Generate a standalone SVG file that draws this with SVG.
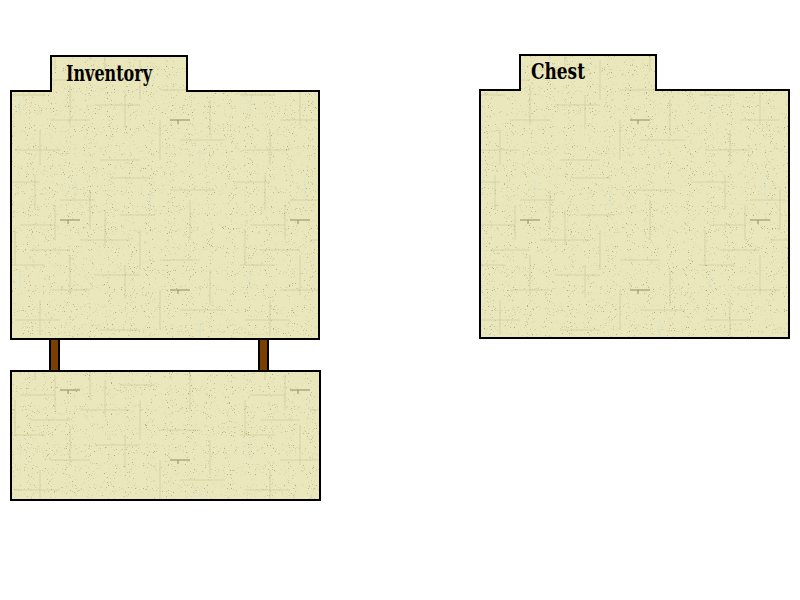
<svg xmlns="http://www.w3.org/2000/svg" width="800" height="600" viewBox="0 0 800 600">
  <style>
    .border { fill: none; stroke: #000; stroke-width: 2; stroke-linejoin: miter; }
    .paper { fill: url(#paperPat); }
    .title { font-family: "DejaVu Serif", "Liberation Serif", serif; font-weight: bold; font-size: 22px; fill: #000; }
    .post { fill: #7b3f00; stroke: #000; stroke-width: 2; }
  </style>
  <defs>
    <pattern id="paperPat" patternUnits="userSpaceOnUse" width="230" height="170">
      <rect width="230" height="170" fill="#ebe7bc"/>
      <g stroke="#c4bf95" stroke-width="1" stroke-opacity="0.55">
        <path d="M5 12 H40 M60 30 H95 M110 8 H150 M20 55 H55 M80 70 H130 M10 95 H45 M95 105 H140 M50 120 H90 M120 45 H155 M30 80 H70 M170 20 H215 M160 90 H200 M180 140 H225 M15 150 H60 M100 160 H140"/>
        <path d="M35 5 V40 M90 20 V60 M140 60 V100 M15 60 V95 M70 85 V125 M125 95 V128 M55 35 V70 M105 40 V75 M190 30 V70 M210 100 V135 M160 120 V160 M40 130 V165"/>
      </g>
      <g stroke="#8f8a60" stroke-width="1">
        <path d="M60 50 H80 M68 50 V54 M170 120 H190 M178 120 V124"/>
      </g>
      <g stroke="#c6e0d0" stroke-width="1" stroke-opacity="0.5">
        <path d="M75 10 V30 M20 100 V118 M150 20 V40 M200 150 V168"/>
      </g>
    </pattern>
    <filter id="speckle" x="0" y="0" width="100%" height="100%">
      <feTurbulence type="fractalNoise" baseFrequency="0.95" numOctaves="2" seed="7" result="n"/>
      <feColorMatrix in="n" type="matrix" values="0 0 0 0 0.42  0 0 0 0 0.40  0 0 0 0 0.25  6 0 0 0 -3.9" result="dots"/>
      <feComposite in="dots" in2="SourceGraphic" operator="in" result="d2"/>
      <feMerge><feMergeNode in="SourceGraphic"/><feMergeNode in="d2"/></feMerge>
    </filter>
  </defs>
  <rect width="800" height="600" fill="#fff"/>

  <g id="inventory">
    <path class="paper" filter="url(#speckle)" d="M11 91 H51 V56 H187 V91 H319 V339 H11 Z"/>
    <path class="border" d="M11 91 H51 V56 H187 V91 H319 V339 H11 Z"/>
    <text class="title" x="66" y="81" textLength="86" lengthAdjust="spacingAndGlyphs">Inventory</text>
  </g>

  <g id="posts">
    <rect class="post" x="50" y="339" width="9" height="32"/>
    <rect class="post" x="259" y="339" width="9" height="32"/>
  </g>

  <g id="hotbar">
    <path class="paper" filter="url(#speckle)" d="M11 371 H320 V500 H11 Z"/>
    <path class="border" d="M11 371 H320 V500 H11 Z"/>
  </g>

  <g id="chest">
    <path class="paper" filter="url(#speckle)" d="M480 90 H520 V55 H656 V90 H789 V338 H480 Z"/>
    <path class="border" d="M480 90 H520 V55 H656 V90 H789 V338 H480 Z"/>
    <text class="title" x="531" y="79" textLength="54" lengthAdjust="spacingAndGlyphs">Chest</text>
  </g>
</svg>
